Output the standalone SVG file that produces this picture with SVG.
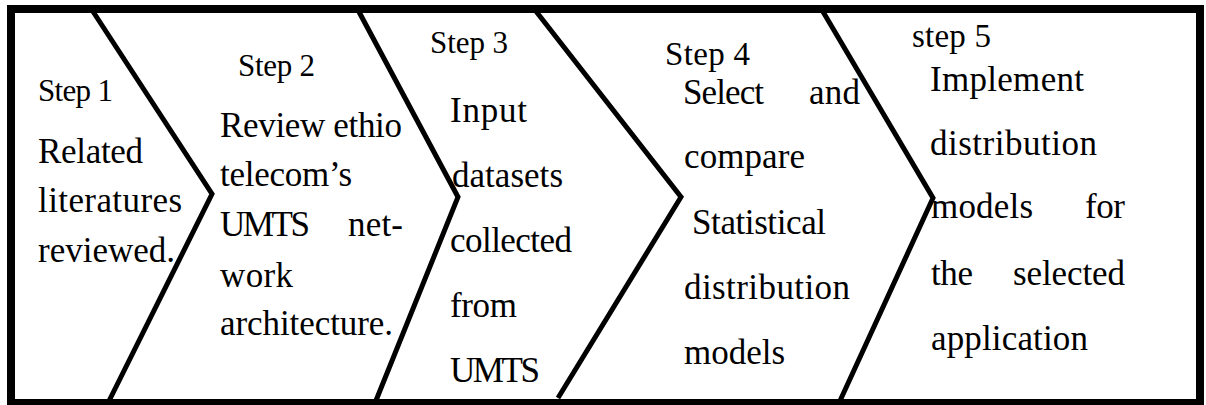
<svg xmlns="http://www.w3.org/2000/svg" width="1206" height="405" viewBox="0 0 1206 405">
<style>
.frame{fill:#fff;stroke:#000;stroke-width:8}
.div{fill:none;stroke:#000;stroke-width:5;stroke-linejoin:miter}
text{font-family:"Liberation Serif","Times New Roman",serif;fill:#000}
.st{font-size:31px}
.bd{font-size:35px}
</style>
<rect class="frame" x="11" y="9" width="1189" height="394"/>
<g id="connectors">
<polyline class="div" points="92,10 212,194 108,403"/>
<polyline class="div" points="358,10 458,197 375,403"/>
<polyline class="div" points="535,10 681,197 558,398"/>
<polyline class="div" points="822,10 933,198 839,403"/>
</g>
<g id="step1">
<text class="st" x="38" y="101" textLength="75">Step 1</text>
<text class="bd" x="38" y="163" textLength="105">Related</text>
<text class="bd" x="38" y="212" textLength="144">literatures</text>
<text class="bd" x="38" y="262" textLength="137">reviewed.</text>
</g>
<g id="step2">
<text class="st" x="238" y="76" textLength="77">Step 2</text>
<text class="bd" x="220" y="137" textLength="182">Review ethio</text>
<text class="bd" x="220" y="186" textLength="132">telecom’s</text>
<text class="bd" x="220" y="236" textLength="90">UMTS</text>
<text class="bd" x="348" y="236" textLength="55">net-</text>
<text class="bd" x="220" y="287" textLength="73">work</text>
<text class="bd" x="220" y="335" textLength="173">architecture.</text>
</g>
<g id="step3">
<text class="st" x="430" y="53" textLength="78">Step 3</text>
<text class="bd" x="450" y="122" textLength="77">Input</text>
<text class="bd" x="452" y="187" textLength="111">datasets</text>
<text class="bd" x="450" y="252" textLength="122">collected</text>
<text class="bd" x="450" y="317" textLength="67">from</text>
<text class="bd" x="450" y="382" textLength="90">UMTS</text>
</g>
<g id="step4">
<text class="st" x="665" y="65" textLength="85" style="font-size:33px">Step 4</text>
<text class="bd" x="683" y="104" textLength="81">Select</text>
<text class="bd" x="809" y="104" textLength="51">and</text>
<text class="bd" x="684" y="168" textLength="121">compare</text>
<text class="bd" x="692" y="234" textLength="134">Statistical</text>
<text class="bd" x="684" y="299" textLength="166">distribution</text>
<text class="bd" x="684" y="364" textLength="101">models</text>
</g>
<g id="step5">
<text class="st" x="912" y="47" textLength="79" style="font-size:33px">step 5</text>
<text class="bd" x="930" y="91" textLength="154">Implement</text>
<text class="bd" x="930" y="155" textLength="167">distribution</text>
<text class="bd" x="931" y="218" textLength="102">models</text>
<text class="bd" x="1085" y="218" textLength="40">for</text>
<text class="bd" x="931" y="285" textLength="42">the</text>
<text class="bd" x="1013" y="285" textLength="112">selected</text>
<text class="bd" x="931" y="350" textLength="157">application</text>
</g>
</svg>
